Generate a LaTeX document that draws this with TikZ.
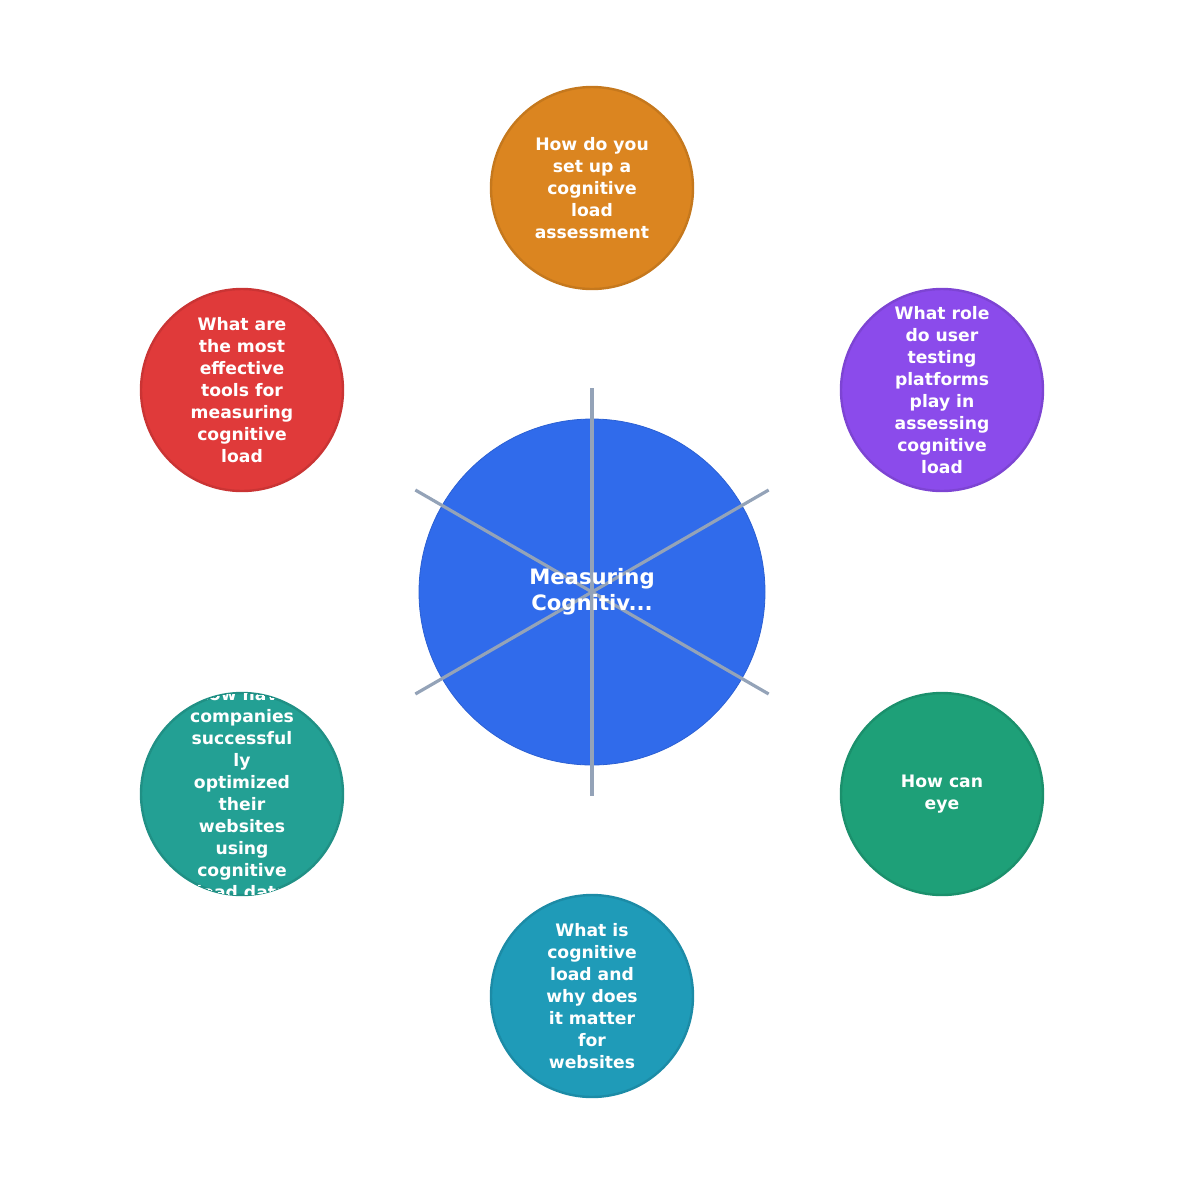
\documentclass[tikz,border=0pt]{standalone}
\usepackage{fontspec}
\setmainfont{DejaVu Sans}
\usetikzlibrary{calc}
\definecolor{hub}{HTML}{306BEB}
\definecolor{spoke}{HTML}{94A3B8}
\definecolor{corange}{HTML}{DB8520}
\definecolor{cpurple}{HTML}{8B4BEB}
\definecolor{cred}{HTML}{E03A3A}
\definecolor{cgreen}{HTML}{1EA078}
\definecolor{cteal}{HTML}{23A094}
\definecolor{ccyan}{HTML}{1F9BB8}
\tikzset{
  topic/.style={circle, minimum size=101pt, inner sep=0pt, line width=1.2pt},
  ttext/.style={text=white, align=center, font=\fontsize{8.6}{11}\selectfont\bfseries},
  spk/.style={draw=spoke, line width=1.6pt},
}
\begin{document}
\begin{tikzpicture}[x=0.5pt,y=-0.5pt]
  \useasboundingbox (0,0) rectangle (1185,1185);
  \node[circle, minimum size=173pt, inner sep=0pt, fill=hub, draw=hub!90!black] (hub) at (592,592) {};
  \foreach \a in {90,30,-30,-90,-150,150}
    \coordinate (s\a) at ($(hub.center)+({204*cos(\a)},{-204*sin(\a)})$);
  \foreach \a in {90,30,-30,-90,-150,150}
    \draw[spk] (hub.center) -- (s\a);
  \node[text=white, align=center, font=\fontsize{10.6}{13}\selectfont\bfseries] at (hub) {Measuring\\Cognitiv...};
  % satellites
  \node[topic, fill=corange, draw=corange!90!black, ttext] (setup) at (592,188) {How do you\\set up a\\cognitive\\load\\assessment};
  \node[topic, fill=cpurple, draw=cpurple!90!black, ttext] (role) at (942,390) {What role\\do user\\testing\\platforms\\play in\\assessing\\cognitive\\load};
  \node[topic, fill=cgreen, draw=cgreen!90!black, ttext] (eye) at (942,794) {How can\\eye};
  \node[topic, fill=ccyan, draw=ccyan!90!black, ttext] (what) at (592,996) {What is\\cognitive\\load and\\why does\\it matter\\for\\websites};
  \node[topic, fill=cteal, draw=cteal!90!black] (how) at (242,794) {};
  \begin{scope}
    \clip (242,794) circle (101);
    \node[ttext] at (242,793) {How have\\companies\\successful\\ly\\optimized\\their\\websites\\using\\cognitive\\load data};
  \end{scope}
  \node[topic, fill=cred, draw=cred!90!black, ttext] (tools) at (242,390) {What are\\the most\\effective\\tools for\\measuring\\cognitive\\load};
\end{tikzpicture}
\end{document}
